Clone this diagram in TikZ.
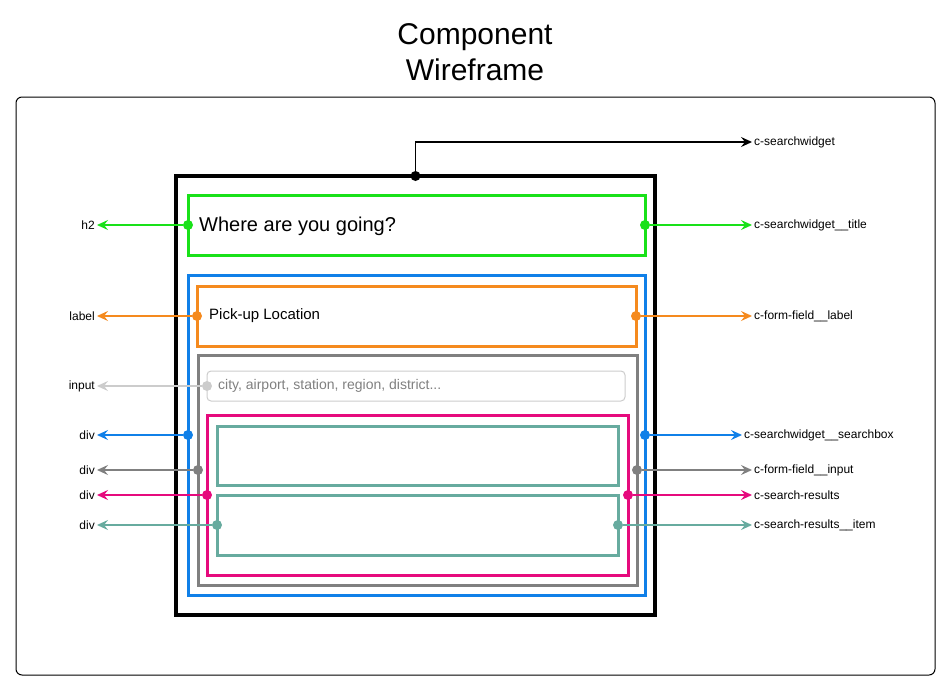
\documentclass[tikz,border=0pt]{standalone}
\usepackage{fontspec}
\setmainfont{Liberation Sans}
\usepackage {tikz}
\usetikzlibrary {arrows.meta}
\definecolor {titlegreen}{RGB}{25,225,25}
\definecolor {boxblue}{RGB}{16,128,232}
\definecolor {fieldorange}{RGB}{245,138,30}
\definecolor {fieldgray}{RGB}{128,128,128}
\definecolor {resultpink}{RGB}{230,10,125}
\definecolor {itemteal}{RGB}{103,171,159}
\definecolor {inputgray}{RGB}{204,204,204}

\begin{document}
\begin{tikzpicture}[x=1pt,y=-1pt,shorten >=1pt,->,>={Stealth[length=11pt,width=10pt,inset=4pt]}]
  \tikzstyle{box}=[rectangle ,draw ,line width=3pt ,inner sep=0pt ,outer sep=0pt ,anchor=north west]
  \tikzstyle{dot}=[circle ,fill ,inner sep=0pt ,minimum size=10pt]
  \tikzstyle{tag}=[font=\fontsize{12}{14}\selectfont ,inner sep=1pt ,text=black]
  \tikzstyle{link}=[line width=1.8pt]
  \useasboundingbox (0,0) rectangle (951,691);
  % title and frame
  \node[align=center ,font=\fontsize{30}{36}\selectfont] (T_0) at (475,52) {Component\\Wireframe};
  \node[box ,line width=1pt ,rounded corners=6pt ,minimum width=919 ,minimum height=578] (F_0) at (16,97) {};
  % boxes
  \node[box ,line width=3.4pt ,minimum width=479 ,minimum height=439] (B_0) at (176,176) {};
  \node[box ,titlegreen ,minimum width=457 ,minimum height=60] (B_1) at (188,195) {};
  \node[box ,boxblue ,minimum width=457 ,minimum height=320] (B_2) at (188,275) {};
  \node[box ,fieldorange ,minimum width=439 ,minimum height=60] (B_3) at (197,286) {};
  \node[box ,fieldgray ,minimum width=439 ,minimum height=230] (B_4) at (198,355) {};
  \node[box ,inputgray ,line width=1pt ,rounded corners=4pt ,minimum width=418 ,minimum height=30] (B_5) at (207,371) {};
  \node[box ,resultpink ,minimum width=421 ,minimum height=160] (B_6) at (207,415) {};
  \node[box ,itemteal ,minimum width=401 ,minimum height=59] (B_7) at (217,426) {};
  \node[box ,itemteal ,minimum width=401 ,minimum height=60] (B_8) at (217,495) {};
  % texts
  \node[anchor=west ,inner sep=0pt ,font=\fontsize{20}{24}\selectfont] (X_1) at (199,226) {Where are you going?};
  \node[anchor=west ,inner sep=0pt ,font=\fontsize{15}{18}\selectfont] (X_3) at (209,316) {Pick-up Location};
  \node[anchor=west ,inner sep=0pt ,text=fieldgray ,font=\fontsize{14}{17}\selectfont] (X_5) at (218,386) {city, airport, station, region, district...};
  % dots
  \node[dot] (D_0) at (B_0.north) {};
  \node[dot ,titlegreen] (D_1) at (B_1.west) {};
  \node[dot ,titlegreen] (E_1) at (B_1.east) {};
  \node[dot ,boxblue] (D_2) at (B_2.west) {};
  \node[dot ,boxblue] (E_2) at (B_2.east) {};
  \node[dot ,fieldorange] (D_3) at (B_3.west) {};
  \node[dot ,fieldorange] (E_3) at (B_3.east) {};
  \node[dot ,fieldgray] (D_4) at (B_4.west) {};
  \node[dot ,fieldgray] (E_4) at (B_4.east) {};
  \node[dot ,inputgray] (D_5) at (B_5.west) {};
  \node[dot ,resultpink] (D_6) at (B_6.west) {};
  \node[dot ,resultpink] (E_6) at (B_6.east) {};
  \node[dot ,itemteal] (D_8) at (B_8.west) {};
  \node[dot ,itemteal] (E_8) at (B_8.east) {};
  % left tags
  \node[tag ,anchor=east] (L_1) at (96,225) {h2};
  \node[tag ,anchor=east] (L_3) at (96,316) {label};
  \node[tag ,anchor=east] (L_5) at (96,386) {input};
  \node[tag ,anchor=east] (L_2) at (96,435) {div};
  \node[tag ,anchor=east] (L_4) at (96,470) {div};
  \node[tag ,anchor=east] (L_6) at (96,495) {div};
  \node[tag ,anchor=east] (L_8) at (96,525) {div};
  % right tags
  \node[tag ,anchor=west] (R_0) at (753,142) {c-searchwidget};
  \node[tag ,anchor=west] (R_1) at (753,225) {c-searchwidget\_\_title};
  \node[tag ,anchor=west] (R_3) at (753,316) {c-form-field\_\_label};
  \node[tag ,anchor=west] (R_2) at (743,435) {c-searchwidget\_\_searchbox};
  \node[tag ,anchor=west] (R_4) at (753,470) {c-form-field\_\_input};
  \node[tag ,anchor=west] (R_6) at (753,495) {c-search-results};
  \node[tag ,anchor=west] (R_8) at (753,525) {c-search-results\_\_item};
  % connectors
  \draw[link] (D_0) |- (R_0);
  \draw[link ,titlegreen] (D_1) -- (L_1);
  \draw[link ,titlegreen] (E_1) -- (R_1);
  \draw[link ,fieldorange] (D_3) -- (L_3);
  \draw[link ,fieldorange] (E_3) -- (R_3);
  \draw[link ,inputgray] (D_5) -- (L_5);
  \draw[link ,boxblue] (D_2) -- (L_2);
  \draw[link ,boxblue] (E_2) -- (R_2);
  \draw[link ,fieldgray] (D_4) -- (L_4);
  \draw[link ,fieldgray] (E_4) -- (R_4);
  \draw[link ,resultpink] (D_6) -- (L_6);
  \draw[link ,resultpink] (E_6) -- (R_6);
  \draw[link ,itemteal] (D_8) -- (L_8);
  \draw[link ,itemteal] (E_8) -- (R_8);
\end{tikzpicture}
\end{document}
